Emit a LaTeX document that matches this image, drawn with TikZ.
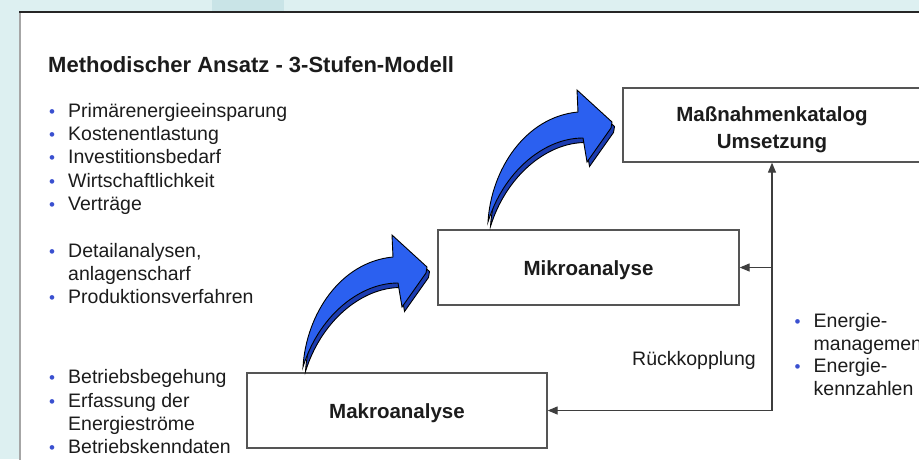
\documentclass[tikz,border=0pt]{standalone}
\usepackage{fontspec}
\setmainfont{Liberation Sans}
\usetikzlibrary{arrows.meta}

\definecolor{bgcyan}{HTML}{DDF0F1}
\definecolor{tabcyan}{HTML}{C9E4E7}
\definecolor{arrowblue}{HTML}{2B60F0}
\definecolor{arrowside}{HTML}{1C3CB0}
\definecolor{bulblue}{HTML}{3A50D0}
\definecolor{ink}{HTML}{1C1C1C}
\definecolor{framegray}{HTML}{555555}

\newcommand\bodyfont{\fontsize{19.5pt}{23.5pt}\selectfont}
\newcommand\bul{\makebox[19pt][l]{\textcolor{bulblue}{\fontsize{17pt}{17pt}\selectfont\textbullet}}}

\tikzset{
  txt/.style={anchor=base west, inner sep=0pt, text=ink, font=\bodyfont},
  stagebox/.style={draw=framegray, line width=1.3pt, fill=white, inner sep=0pt},
  stagetext/.style={inner sep=0pt, align=center, text=ink,
    font=\bfseries\fontsize{20.5pt}{27pt}\selectfont},
  fb/.style={draw=ink!85, line width=1.2pt, -{Triangle[length=10pt,width=8pt]}},
  stepshape/.pic={
    \path[fill=arrowside, draw=black, line width=0.9pt, shift={(2.5,4.5)}]
      (0,0) .. controls (3,-52) and (37,-105) .. (90,-110)
      -- (89,-132) -- (124,-100) -- (123,-94) -- (99,-60) -- (95,-84)
      .. controls (55,-84) and (15,-49) .. (0,0) -- cycle;
    \path[fill=arrowblue, draw=black, line width=0.9pt]
      (0,0) .. controls (3,-52) and (37,-105) .. (90,-110)
      -- (89,-132) -- (124,-100) -- (123,-94) -- (99,-60) -- (95,-84)
      .. controls (55,-84) and (15,-49) .. (0,0) -- cycle;
  }
}

\begin{document}
\begin{tikzpicture}[x=1pt,y=-1pt]
  \useasboundingbox (0,0) rectangle (919,459);
  \clip (0,0) rectangle (919,459);

  % backdrop and white panel
  \fill[bgcyan] (0,0) rectangle (919,459);
  \fill[tabcyan] (212,0) rectangle (284,12);
  \fill[white] (20,12) rectangle (930,470);
  \draw[line width=1.5pt, gray!70] (20,470) -- (20,12);
  \draw[line width=2pt, black!85] (19.3,12) -- (930,12);

  % title
  \node[anchor=base west, inner sep=0pt, text=ink, font=\bfseries\fontsize{22pt}{26pt}\selectfont]
    (title) at (48,72) {Methodischer Ansatz - 3-Stufen-Modell};

  % left bullet lists
  \node[txt] (l1) at (49,117) {\bul Primärenergieeinsparung};
  \node[txt] (l2) at (49,140) {\bul Kostenentlastung};
  \node[txt] (l3) at (49,163) {\bul Investitionsbedarf};
  \node[txt] (l4) at (49,187) {\bul Wirtschaftlichkeit};
  \node[txt] (l5) at (49,210) {\bul Verträge};

  \node[txt] (m1) at (49,257) {\bul Detailanalysen,};
  \node[txt] (m1b) at (68,280) {anlagenscharf};
  \node[txt] (m2) at (49,303) {\bul Produktionsverfahren};

  \node[txt] (b1) at (49,383) {\bul Betriebsbegehung};
  \node[txt] (b2) at (49,407) {\bul Erfassung der};
  \node[txt] (b2b) at (68,430) {Energieströme};
  \node[txt] (b3) at (49,453) {\bul Betriebskenndaten};

  % the three stages
  \node[stagebox, minimum width=298pt, minimum height=74pt] (mass) at (772,125) {};
  \node[stagetext] (masstext) at ([yshift=-5pt]mass.center) {Maßnahmenkatalog\\Umsetzung};
  \node[stagebox, minimum width=301pt, minimum height=75pt] (mikro) at (588.5,267.5) {};
  \node[stagetext] (mikrotext) at ([yshift=-3pt]mikro.center) {Mikroanalyse};
  \node[stagebox, minimum width=300pt, minimum height=75pt] (makro) at (397,410.5) {};
  \node[stagetext] (makrotext) at ([yshift=-2.5pt]makro.center) {Makroanalyse};

  % step-up arrows
  \pic at (303,367) {stepshape};
  \pic at (488,222) {stepshape};

  % feedback loop
  \coordinate (fbcorner) at (772,410.5);
  \coordinate (fbtap) at (fbcorner |- mikro.east);
  \draw[fb] (fbcorner) -- (mass.south);
  \draw[fb] (fbtap) -- (mikro.east);
  \draw[fb] (fbcorner) -- (makro.east);
  \node[txt] (rk) at (632,365) {Rückkopplung};

  % right bullet list
  \node[txt] (r1) at (794.5,327) {\bul Energie-};
  \node[txt] (r1b) at (813.5,350) {management};
  \node[txt] (r2) at (794.5,372) {\bul Energie-};
  \node[txt] (r2b) at (813.5,395) {kennzahlen};
\end{tikzpicture}
\end{document}
